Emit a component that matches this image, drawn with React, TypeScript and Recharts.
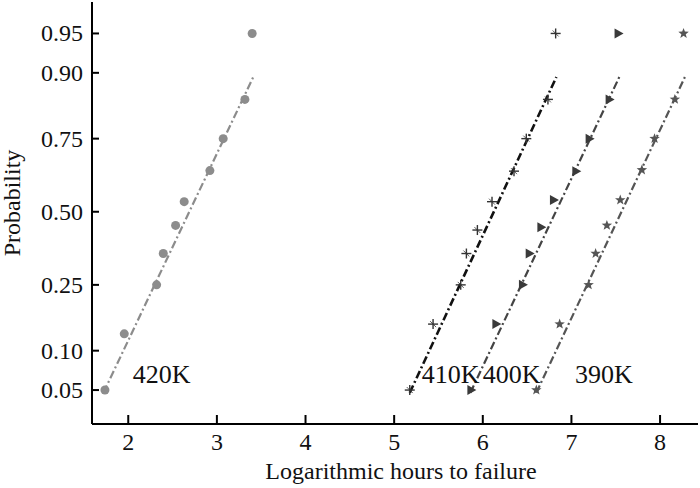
import React from "react";
import { ComposedChart, Scatter, XAxis, YAxis } from "recharts";

// probability axis ticks and x ticks
const probTicks = [0.05, 0.1, 0.25, 0.5, 0.75, 0.9, 0.95];
const xTicks = [2, 3, 4, 5, 6, 7, 8];

// observed points (log hours, cumulative probability)
const x420 = [1.737, 1.955, 2.32, 2.395, 2.534, 2.631, 2.921, 3.071, 3.316, 3.398];
const p420 = [0.05, 0.13, 0.25, 0.35, 0.45, 0.537, 0.648, 0.75, 0.85, 0.95];

const x410 = [5.176, 5.439, 5.751, 5.815, 5.939, 6.104, 6.352, 6.491, 6.735, 6.822];
const p410 = [0.05, 0.15, 0.25, 0.35, 0.433, 0.537, 0.646, 0.75, 0.85, 0.95];

const x400 = [5.871, 6.153, 6.453, 6.529, 6.661, 6.803, 7.055, 7.205, 7.431, 7.532];
const p400 = [0.05, 0.15, 0.25, 0.35, 0.443, 0.543, 0.646, 0.75, 0.85, 0.95];

const x390 = [6.604, 6.867, 7.194, 7.273, 7.4, 7.551, 7.795, 7.938, 8.167, 8.265];
const p390 = [0.05, 0.15, 0.25, 0.35, 0.45, 0.543, 0.65, 0.75, 0.85, 0.95];

// fitted lines: end points
const fitProb = [0.0475, 0.893];
const fit420 = [1.72, 3.41];
const fit410 = [5.176, 6.83];
const fit400 = [5.86, 7.54];
const fit390 = [6.604, 8.28];

// temperature labels
const labelText = ["420K", "410K", "400K", "390K"];
const labelX = [2.05, 5.31, 6.0, 7.04];
const labelProb = 0.057;

// inverse standard normal CDF (Acklam)
const invNorm = (p: number): number => {
  const a = [-3.969683028665376e1, 2.209460984245205e2, -2.759285104469687e2, 1.38357751867269e2, -3.066479806614716e1, 2.506628277459239];
  const b = [-5.447609879822406e1, 1.615858368580409e2, -1.556989798598866e2, 6.680131188771972e1, -1.328068155288572e1];
  const c = [-7.784894002430293e-3, -3.223964580411365e-1, -2.400758277161838, -2.549732539343734, 4.374664141464968, 2.938163982698783];
  const d = [7.784695709041462e-3, 3.224671290700398e-1, 2.445134137142996, 3.754408661907416];
  const plow = 0.02425;
  if (p < plow) {
    const q = Math.sqrt(-2 * Math.log(p));
    return (((((c[0] * q + c[1]) * q + c[2]) * q + c[3]) * q + c[4]) * q + c[5]) / ((((d[0] * q + d[1]) * q + d[2]) * q + d[3]) * q + 1);
  }
  if (p <= 1 - plow) {
    const q = p - 0.5;
    const r = q * q;
    return ((((((a[0] * r + a[1]) * r + a[2]) * r + a[3]) * r + a[4]) * r + a[5]) * q) / (((((b[0] * r + b[1]) * r + b[2]) * r + b[3]) * r + b[4]) * r + 1);
  }
  const q = Math.sqrt(-2 * Math.log(1 - p));
  return -(((((c[0] * q + c[1]) * q + c[2]) * q + c[3]) * q + c[4]) * q + c[5]) / ((((d[0] * q + d[1]) * q + d[2]) * q + d[3]) * q + 1);
};

const toPoints = (xs: number[], ps: number[]) => xs.map((x, i) => ({ x, z: invNorm(ps[i]) }));

const FONT = "'Liberation Serif', 'Times New Roman', serif";
const DASH = "8 3 2 3";

const CircleDot = (props: any) => <circle cx={props.cx} cy={props.cy} r={4.5} fill="#8c8c8c" />;

const PlusDot = (props: any) => {
  const { cx, cy } = props;
  return (
    <g stroke="#333" strokeWidth={1.4}>
      <line x1={cx - 5} y1={cy} x2={cx + 5} y2={cy} />
      <line x1={cx} y1={cy - 5} x2={cx} y2={cy + 5} />
      <line x1={cx - 3} y1={cy - 3} x2={cx + 3} y2={cy + 3} strokeWidth={0.8} />
    </g>
  );
};

const TriDot = (props: any) => {
  const { cx, cy } = props;
  return <polygon points={`${cx - 4},${cy - 5} ${cx - 4},${cy + 5} ${cx + 5},${cy}`} fill="#3a3a3a" />;
};

const StarDot = (props: any) => {
  const { cx, cy } = props;
  const pts: string[] = [];
  for (let i = 0; i < 10; i++) {
    const r = i % 2 === 0 ? 5.5 : 2.3;
    const ang = -Math.PI / 2 + (i * Math.PI) / 5;
    pts.push(`${cx + r * Math.cos(ang)},${cy + r * Math.sin(ang)}`);
  }
  return <polygon points={pts.join(" ")} fill="#555" />;
};

const NoDot = () => <g />;

const YTick = (props: any) => {
  const { x, y, payload } = props;
  const p = probTicks.find((t) => Math.abs(invNorm(t) - payload.value) < 1e-6) ?? 0;
  return (
    <g>
      <line x1={x + 9} y1={y} x2={x + 16} y2={y} stroke="#000" strokeWidth={2} />
      <text x={x} y={y + 8} textAnchor="end" fontFamily={FONT} fontSize={24} fill="#111">
        {p.toFixed(2)}
      </text>
    </g>
  );
};

const XTick = (props: any) => {
  const { x, y, payload } = props;
  return (
    <g>
      <line x1={x} y1={y} x2={x} y2={y - 9} stroke="#000" strokeWidth={2} />
      <text x={x} y={y + 26} textAnchor="middle" fontFamily={FONT} fontSize={24} fill="#111">
        {payload.value}
      </text>
    </g>
  );
};

const TempLabel = (props: any) => (
  <text x={props.cx} y={props.cy} fontFamily={FONT} fontSize={26} fill="#111">
    {props.payload.label}
  </text>
);

const X_DOMAIN = [1.591, 8.428];
const Z_DOMAIN = [-1.958, 1.935];

const App = () => {
  const series = [
    { pts: toPoints(x420, p420), fit: toPoints(fit420, fitProb), shape: CircleDot, stroke: "#8c8c8c", width: 2.2 },
    { pts: toPoints(x410, p410), fit: toPoints(fit410, fitProb), shape: PlusDot, stroke: "#111", width: 2.6 },
    { pts: toPoints(x400, p400), fit: toPoints(fit400, fitProb), shape: TriDot, stroke: "#444", width: 2.2 },
    { pts: toPoints(x390, p390), fit: toPoints(fit390, fitProb), shape: StarDot, stroke: "#555", width: 2.2 },
  ];
  const labels = labelText.map((label, i) => ({ x: labelX[i], z: invNorm(labelProb), label }));

  return (
    <div style={{ position: "absolute", left: 0, top: 0, background: "#fff" }}>
      <ComposedChart width={700} height={488} margin={{ top: 2, right: 2, bottom: 0, left: 0 }}>
        <XAxis
          type="number"
          dataKey="x"
          domain={X_DOMAIN}
          ticks={xTicks}
          allowDataOverflow
          height={64}
          axisLine={{ stroke: "#000", strokeWidth: 2 }}
          tickLine={false}
          tickSize={0}
          tickMargin={0}
          tick={<XTick />}
          label={{
            content: () => (
              <text x={401} y={479} textAnchor="middle" fontFamily={FONT} fontSize={24} fill="#111">
                Logarithmic hours to failure
              </text>
            ),
          }}
        />
        <XAxis
          xAxisId="top"
          orientation="top"
          type="number"
          domain={X_DOMAIN}
          height={0}
          tick={false}
          tickLine={false}
          axisLine={{ stroke: "#000", strokeWidth: 2 }}
        />
        <YAxis
          type="number"
          dataKey="z"
          domain={Z_DOMAIN}
          ticks={probTicks.map(invNorm)}
          allowDataOverflow
          width={92}
          axisLine={{ stroke: "#000", strokeWidth: 2 }}
          tickLine={false}
          tickSize={0}
          tickMargin={9}
          tick={<YTick />}
          label={{
            content: () => (
              <text x={20} y={203} transform="rotate(-90 20 203)" textAnchor="middle" fontFamily={FONT} fontSize={24} fill="#111">
                Probability
              </text>
            ),
          }}
        />
        <YAxis
          yAxisId="right"
          orientation="right"
          type="number"
          domain={Z_DOMAIN}
          width={0}
          tick={false}
          tickLine={false}
          axisLine={{ stroke: "#000", strokeWidth: 2 }}
        />
        {series.map((s, i) => (
          <Scatter
            key={`fit-${i}`}
            data={s.fit}
            dataKey="z"
            line={{ stroke: s.stroke, strokeWidth: s.width, strokeDasharray: DASH }}
            shape={NoDot}
            isAnimationActive={false}
          />
        ))}
        {series.map((s, i) => (
          <Scatter key={`pts-${i}`} data={s.pts} dataKey="z" shape={s.shape} isAnimationActive={false} />
        ))}
        <Scatter data={labels} dataKey="z" shape={TempLabel} isAnimationActive={false} />
      </ComposedChart>
    </div>
  );
};

export default App;
